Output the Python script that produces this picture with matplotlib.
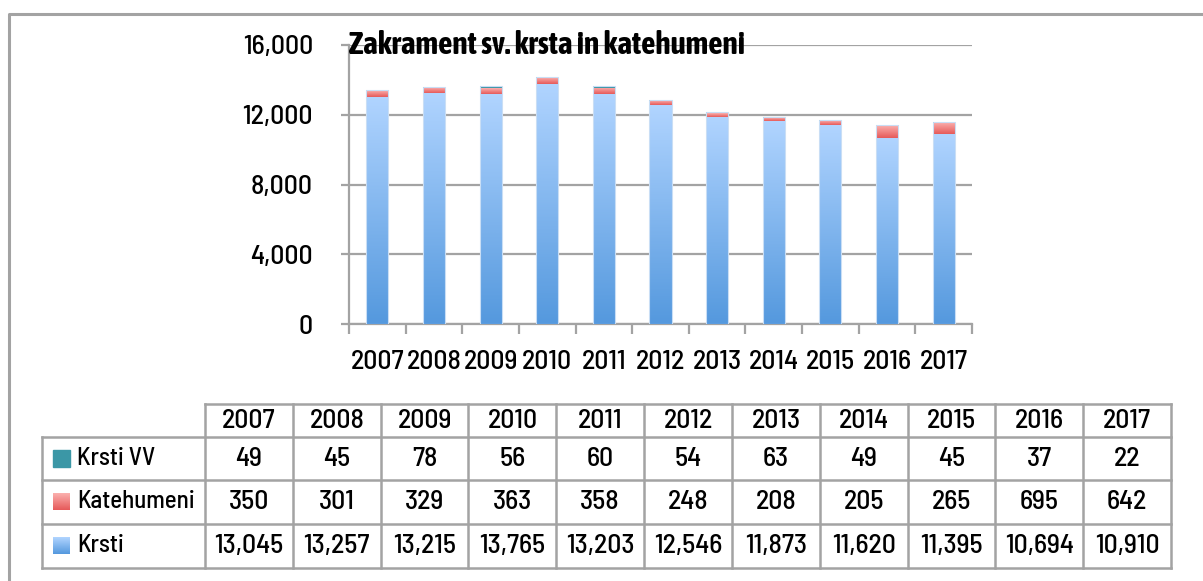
import matplotlib
matplotlib.use("Agg")
import matplotlib.pyplot as plt
import numpy as np
from matplotlib.colors import LinearSegmentedColormap
from matplotlib.patches import Rectangle

plt.rcParams['font.family'] = ['Barlow Semi Condensed', 'DejaVu Sans']
plt.rcParams['font.weight'] = 'medium'

years = ['2007', '2008', '2009', '2010', '2011', '2012', '2013', '2014', '2015', '2016', '2017']
krsti = [13045, 13257, 13215, 13765, 13203, 12546, 11873, 11620, 11395, 10694, 10910]
katehumeni = [350, 301, 329, 363, 358, 248, 208, 205, 265, 695, 642]
krsti_vv = [49, 45, 78, 56, 60, 54, 63, 49, 45, 37, 22]

row_names = ['Krsti VV', 'Katehumeni', 'Krsti']
row_values = [krsti_vv, katehumeni, krsti]
legend_cols = ['#3b97a6', ('#fbb0ae', '#e65a5a'), ('#b0d4ff', '#5599de')]

W, H = 1203, 581
fig = plt.figure(figsize=(W / 100, H / 100), dpi=100)
grid_c = '#a3a3a3'
fs = 20

# background frame (only left + top visible)
bg = fig.add_axes([0, 0, 1, 1])
bg.set_xlim(0, W)
bg.set_ylim(H, 0)
bg.axis('off')
bg.plot([9, 9, W], [H, 14, 14], color=grid_c, lw=2.2, solid_capstyle='butt')

ax = fig.add_axes([349 / W, 1 - 324 / H, (972 - 349) / W, (324 - 45) / H])
x = np.arange(len(years))
width = 0.39


def grad_bars(bottom, heights, top_c, bot_c, z):
    cmap = LinearSegmentedColormap.from_list('g', [bot_c, top_c])
    bars = ax.bar(x, heights, width, bottom=bottom, color='none',
                  edgecolor='none', zorder=z)
    g = np.linspace(0, 1, 64).reshape(-1, 1)
    for b in bars:
        x0, y0 = b.get_x(), b.get_y()
        im = ax.imshow(g, cmap=cmap, origin='lower', aspect='auto',
                       extent=[x0, x0 + b.get_width(), y0, y0 + b.get_height()],
                       zorder=z, interpolation='bilinear')
        im.set_clip_path(b)
    return bars


base = np.array(krsti)
grad_bars(0, krsti, '#b0d4ff', '#5599de', 3)
grad_bars(base, katehumeni, '#fbb0ae', '#e65a5a', 3)
ax.bar(x, krsti_vv, width, bottom=base + np.array(katehumeni),
       color='#3b97a6', zorder=3)
# light outline
ax.bar(x, base + np.array(katehumeni) + np.array(krsti_vv), width,
       color='none', edgecolor='#c9def5', lw=0.8, zorder=4)

ax.set_xlim(-0.5, len(years) - 0.5)
ax.set_ylim(0, 16000)
ax.set_yticks([0, 4000, 8000, 12000, 16000])
ax.set_yticklabels([f'{v:,}' for v in [0, 4000, 8000, 12000, 16000]], fontsize=fs)
ax.yaxis.grid(True, color=grid_c, lw=1.6, zorder=0)
ax.set_axisbelow(True)
for s in ['top', 'right']:
    ax.spines[s].set_visible(False)
for s in ['left', 'bottom']:
    ax.spines[s].set_color(grid_c)
    ax.spines[s].set_linewidth(1.6)
ax.tick_params(axis='y', length=6, width=1.6, color=grid_c, pad=20)
ax.set_xticks(x)
ax.set_xticklabels(years, fontsize=fs)
ax.set_xticks(np.arange(-0.5, len(years)), minor=True)
ax.tick_params(axis='x', which='major', length=0, pad=19)
ax.tick_params(axis='x', which='minor', length=7, width=1.6, color=grid_c)
ax.set_facecolor('none')

ax.text(0.0, 1.0, 'Zakrament sv. krsta in katehumeni', transform=ax.transAxes,
        fontsize=22.5, fontweight='bold', ha='left', va='center', zorder=6,
        family=['Asap Condensed', 'DejaVu Sans'])

# data table
col0 = 205
col_w = (1171 - col0) / len(years)
left = 42
rows_y = [404, 437, 480, 524, 568]
lw_t = 1.8
for i, yr in enumerate(years):
    cx = col0 + col_w * (i + 0.5)
    bg.text(cx, (rows_y[0] + rows_y[1]) / 2, yr, ha='center', va='center', fontsize=fs)
    for r, vals in enumerate(row_values):
        cy = (rows_y[r + 1] + rows_y[r + 2]) / 2
        bg.text(cx, cy, f'{vals[i]:,}', ha='center', va='center', fontsize=fs)
for r, name in enumerate(row_names):
    cy = (rows_y[r + 1] + rows_y[r + 2]) / 2
    bg.text(77, cy, name, ha='left', va='center', fontsize=18)
    c = legend_cols[r]
    if isinstance(c, tuple):
        cmap = LinearSegmentedColormap.from_list('l', [c[0], c[1]])
        bg.imshow(np.linspace(0, 1, 32).reshape(-1, 1), cmap=cmap, aspect='auto',
                  extent=[53, 70, cy + 8.5, cy - 8.5], zorder=3)
    else:
        bg.add_patch(Rectangle((53, cy - 8.5), 17, 17, color=c, zorder=3))
bg.set_xlim(0, W)
bg.set_ylim(H, 0)

# table lines
bg.plot([col0, 1171], [rows_y[0]] * 2, color=grid_c, lw=lw_t)
for yy in rows_y[1:]:
    bg.plot([left, 1171], [yy] * 2, color=grid_c, lw=lw_t)
bg.plot([left, left], [rows_y[1], rows_y[-1]], color=grid_c, lw=lw_t)
for i in range(len(years) + 1):
    xx = col0 + col_w * i
    bg.plot([xx, xx], [rows_y[0], rows_y[-1]], color=grid_c, lw=lw_t)

fig.savefig('out.png', dpi=100)
